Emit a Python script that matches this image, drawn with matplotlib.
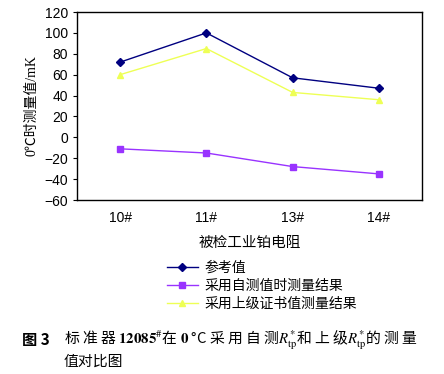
import numpy as np
import matplotlib
matplotlib.use("Agg")
import matplotlib.pyplot as plt

plt.rcParams['font.family'] = ['Liberation Sans', 'Noto Sans CJK SC', 'DejaVu Sans']
plt.rcParams['mathtext.fontset'] = 'stix'

categories = ["10#", "11#", "13#", "14#"]
ref_vals = [72, 100, 57, 47]
self_vals = [-11, -15, -28, -35]
upper_vals = [60, 85, 43, 36]
labels = ["参考值", "采用自测值时测量结果", "采用上级证书值测量结果"]

fig = plt.figure(figsize=(4.44, 3.74), dpi=100)
ax = fig.add_axes([77 / 444, 1 - 200 / 374, 345 / 444, 188 / 374])

x = np.arange(len(categories))
l1, = ax.plot(x, ref_vals, color="#000080", marker="D", markersize=4, lw=1)
l2, = ax.plot(x, self_vals, color="#9933FF", marker="s", markersize=4.5, lw=1)
l3, = ax.plot(x, upper_vals, color="#EEFF55", marker="^", markersize=5, lw=1)

ax.set_xlim(-0.5, 3.5)
ax.set_ylim(-60, 120)
ax.set_yticks(range(-60, 121, 20))
ax.set_yticklabels([str(v).replace("-", "\u2212") for v in range(-60, 121, 20)], fontsize=10)
ax.set_xticks(x)
ax.set_xticklabels(categories, fontsize=10)
ax.tick_params(axis="x", length=0, pad=8)
ax.tick_params(axis="y", length=3, direction="out")
for s in ax.spines.values():
    s.set_linewidth(1)

ax.set_ylabel("0℃时测量值/mK", fontsize=10, family=['Liberation Serif', 'Noto Sans CJK SC'])
ax.set_xlabel("被检工业铂电阻", fontsize=10.5, labelpad=8, family=['Noto Sans CJK SC'])

fig.legend([l1, l2, l3], labels, loc="upper left", bbox_to_anchor=(160 / 444, 1 - 254 / 374),
           frameon=False, prop={'family': ['Noto Sans CJK SC'], 'size': 10},
           handlelength=2.2, labelspacing=0.3, borderpad=0, handletextpad=0.5)

fig.text(22 / 444, 1 - 340 / 374, "图 3", fontsize=11, fontweight="bold",
         family=['Noto Sans CJK SC'], va="center")
fig.text(64 / 444, 1 - 340 / 374,
         r"标 准 器 $\mathbf{12085}^{\#}$在 $\mathbf{0}$ °C 采 用 自 测$R^{*}_{\mathrm{tp}}$和 上 级$R^{*}_{\mathrm{tp}}$的 测 量",
         fontsize=10.7, fontweight="medium", family=['Noto Sans CJK SC', 'DejaVu Sans'], va="center")
fig.text(64 / 444, 1 - 362 / 374, "值对比图", fontsize=10.7, fontweight="medium",
         family=['Noto Sans CJK SC'], va="center")

fig.savefig("out.png", dpi=100)
